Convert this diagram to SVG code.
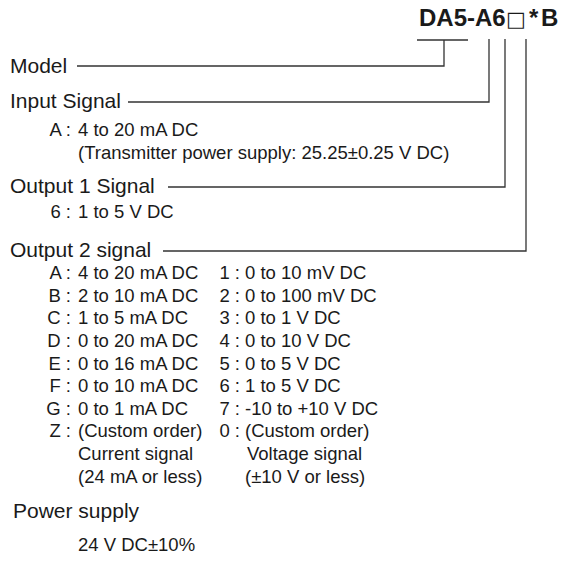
<svg xmlns="http://www.w3.org/2000/svg" width="566" height="568" viewBox="0 0 566 568">
<style>
text{font-family:"Liberation Sans",Arial,sans-serif;fill:#1a1a1a}
.t{font-size:24px;font-weight:bold}
.sq{font-family:"DejaVu Sans",sans-serif;font-weight:normal;font-size:21px}
.h{font-size:21px}
.i{font-size:18.5px}
.c{text-anchor:end}
.ln{fill:none;stroke:#333;stroke-width:1.3}
</style>
<rect width="566" height="568" fill="#fff"/>
<g id="title"><text class="t" y="26"><tspan x="419">DA5-A6</tspan><tspan class="sq" x="506">□</tspan><tspan x="529">*</tspan><tspan x="541">B</tspan></text></g>
<g id="connectors">
<path class="ln" d="M417 40H468M444 40V66H77"/>
<path class="ln" d="M489 39V102H128"/>
<path class="ln" d="M505 39V187H168"/>
<path class="ln" d="M526 39V251H163"/>
</g>
<g id="model"><text class="h" x="10" y="73">Model</text></g>
<g id="input">
<text class="h" x="10" y="108">Input Signal</text>
<text class="i c" x="71" y="136">A :</text><text class="i" x="78" y="136">4 to 20 mA DC</text>
<text class="i" x="78" y="159">(Transmitter power supply: 25.25±0.25 V DC)</text>
</g>
<g id="output1">
<text class="h" x="10" y="193">Output 1 Signal</text>
<text class="i c" x="71" y="218">6 :</text><text class="i" x="78" y="218">1 to 5 V DC</text>
</g>
<g id="output2">
<text class="h" x="10" y="257">Output 2 signal</text>
<text class="i c" x="71" y="279">A :</text><text class="i" x="78" y="279">4 to 20 mA DC</text>
<text class="i c" x="71" y="302">B :</text><text class="i" x="78" y="302">2 to 10 mA DC</text>
<text class="i c" x="71" y="324">C :</text><text class="i" x="78" y="324">1 to 5 mA DC</text>
<text class="i c" x="71" y="347">D :</text><text class="i" x="78" y="347">0 to 20 mA DC</text>
<text class="i c" x="71" y="370">E :</text><text class="i" x="78" y="370">0 to 16 mA DC</text>
<text class="i c" x="71" y="392">F :</text><text class="i" x="78" y="392">0 to 10 mA DC</text>
<text class="i c" x="71" y="415">G :</text><text class="i" x="78" y="415">0 to 1 mA DC</text>
<text class="i c" x="71" y="437">Z :</text><text class="i" x="78" y="437">(Custom order)</text>
<text class="i" x="78" y="460">Current signal</text>
<text class="i" x="78" y="483">(24 mA or less)</text>
<text class="i c" x="240" y="279">1 :</text><text class="i" x="245" y="279">0 to 10 mV DC</text>
<text class="i c" x="240" y="302">2 :</text><text class="i" x="245" y="302">0 to 100 mV DC</text>
<text class="i c" x="240" y="324">3 :</text><text class="i" x="245" y="324">0 to 1 V DC</text>
<text class="i c" x="240" y="347">4 :</text><text class="i" x="245" y="347">0 to 10 V DC</text>
<text class="i c" x="240" y="370">5 :</text><text class="i" x="245" y="370">0 to 5 V DC</text>
<text class="i c" x="240" y="392">6 :</text><text class="i" x="245" y="392">1 to 5 V DC</text>
<text class="i c" x="240" y="415">7 :</text><text class="i" x="245" y="415">-10 to +10 V DC</text>
<text class="i c" x="240" y="437">0 :</text><text class="i" x="245" y="437">(Custom order)</text>
<text class="i" x="247" y="460">Voltage signal</text>
<text class="i" x="245" y="483">(±10 V or less)</text>
</g>
<g id="power">
<text class="h" x="13" y="518">Power supply</text>
<text class="i" x="78" y="551">24 V DC±10%</text>
</g>
</svg>
